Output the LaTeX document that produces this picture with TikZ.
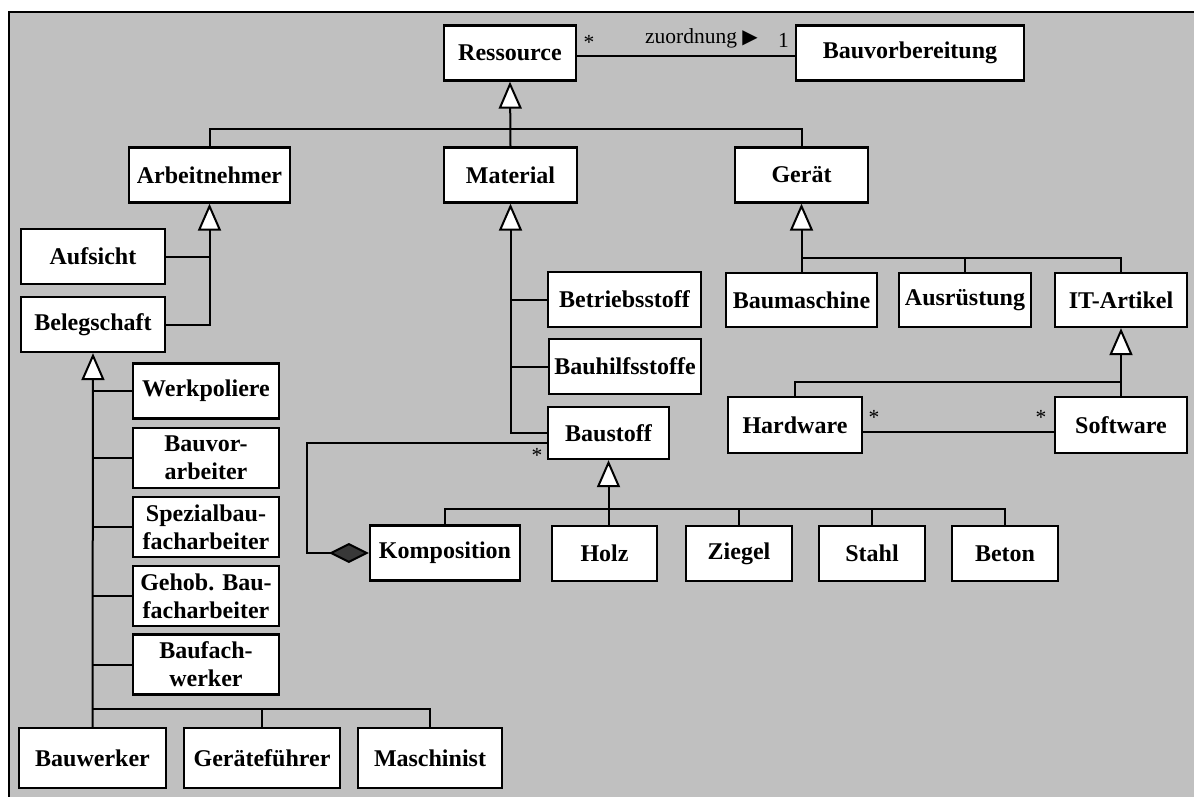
\documentclass[tikz,border=0pt]{standalone}
\usepackage{fontspec}
\setmainfont{Liberation Serif}
\newfontfamily\symfont{DejaVu Sans}
\usetikzlibrary{arrows.meta,calc}
\definecolor{panel}{HTML}{C0C0C0}
\definecolor{aggfill}{HTML}{383838}

\begin{document}
\begin{tikzpicture}[x=1pt,y=-1pt,
  cls/.style={draw, line width=2.3pt, fill=white, inner sep=0pt, align=center,
    font=\bfseries\fontsize{24}{28}\selectfont, minimum height=55pt},
  twoline/.style={minimum height=60pt},
  link/.style={line width=2pt},
  gen/.style={link, -{Triangle[fill=white, width=23pt, length=27pt]}},
  comp/.style={link, {Diamond[fill=aggfill, width=20pt, length=40pt]}-},
  mult/.style={inner sep=0pt, font=\fontsize{21.5}{24}\selectfont}]

\clip (0,0) rectangle (1194,796);
% grey panel
\draw[line width=2pt, fill=panel] (9,12) rectangle (1220,820);

% ---- classes ----
\node[cls, minimum width=132pt] (res)   at (510,53)    {Ressource};
\node[cls, minimum width=228pt] (vorb)  at (910,53)    {Bauvorbereitung};

\node[cls, minimum width=161pt] (arbn)  at (209.5,175) {Arbeitnehmer};
\node[cls, minimum width=133pt] (mat)   at (510.5,175) {Material};
\node[cls, minimum width=133pt] (ger)   at (801.5,175) {Gerät};

\node[cls, minimum width=144pt] (aufs)  at (93,256.5)  {Aufsicht};
\node[cls, minimum width=144pt] (beleg) at (93,324.5)  {Belegschaft};

\node[cls, minimum width=146pt] (werkp) at (206,391)   {Werkpoliere};
\node[cls, twoline, minimum width=146pt] (bvarb) at (206,458)   {Bauvor-\\arbeiter};
\node[cls, twoline, minimum width=146pt] (spez)  at (206,527)   {Spezialbau-\\facharbeiter};
\node[cls, twoline, minimum width=146pt] (gehob) at (206,596)   {Gehob. Bau-\\facharbeiter};
\node[cls, twoline, minimum width=146pt] (bfw)   at (206,664.5) {Baufach-\\werker};

\node[cls, twoline, minimum width=147pt] (bauw)  at (92.5,758) {Bauwerker};
\node[cls, twoline, minimum width=156pt] (gfuehr) at (262,758) {Geräteführer};
\node[cls, twoline, minimum width=144pt] (masch) at (430,758)  {Maschinist};

\node[cls, minimum width=153pt] (betr)  at (624.5,299.5) {Betriebsstoff};
\node[cls, minimum width=152pt] (bhilf) at (625,366.5)   {Bauhilfsstoffe};
\node[cls, minimum width=121pt, minimum height=52pt] (bstoff) at (608.5,433) {Baustoff};

\node[cls, minimum width=150pt] (kompo) at (445,553)    {Komposition};
\node[cls, minimum width=105pt] (holz)  at (604.5,553.5) {Holz};
\node[cls, minimum width=106pt] (ziegel) at (739,553.5) {Ziegel};
\node[cls, minimum width=106pt] (stahl) at (872,553.5)  {Stahl};
\node[cls, minimum width=106pt] (beton) at (1005,553.5) {Beton};

\node[cls, minimum width=151pt, minimum height=54pt] (bmasch) at (801.5,300) {Baumaschine};
\node[cls, minimum width=132pt, minimum height=54pt] (ausr)   at (965,300)   {Ausrüstung};
\node[cls, minimum width=132pt, minimum height=54pt] (itart)  at (1121,300)  {IT-Artikel};

\node[cls, minimum width=134pt, minimum height=56pt] (hw) at (795,425)  {Hardware};
\node[cls, minimum width=132pt, minimum height=56pt] (sw) at (1121,425) {Software};

% ---- association Ressource -- Bauvorbereitung ----
\draw[link] ($(res.east)+(0,3)$) -- ($(vorb.west)+(0,3)$);
\node[mult] (m-res) at (589,42) {*};
\node[mult] (m-zuo) at (701.5,38) {zuordnung {\symfont\fontsize{20}{22}\selectfont ▶}};
\node[mult] (m-vorb) at (783.5,40) {1};

% ---- generalisation of Ressource ----
\coordinate (rbar) at (510,129);
\draw[link] (arbn.north) |- (rbar) -| (ger.north);
\draw[gen] (mat.north) -- (res.south);

% ---- Arbeitnehmer ----
\draw[gen] (beleg.east) -| (arbn.south);
\draw[link] (aufs.east) -- (aufs.east -| arbn.south);

% ---- Belegschaft ----
\draw[gen] (bauw.north) -- (beleg.south);
\coordinate (bbar) at (92.5,709);
\draw[link] (bbar) -| (gfuehr.north);
\draw[link] (bbar) -| (masch.north);
\foreach \n in {werkp,bvarb,spez,gehob,bfw}
  \draw[link] (\n.west) -- (\n.west -| bauw.north);

% ---- Material ----
\draw[gen] (bstoff.west) -| (mat.south);
\draw[link] (betr.west) -- (betr.west -| mat.south);
\draw[link] (bhilf.west) -- (bhilf.west -| mat.south);

% ---- composition of Baustoff ----
\draw[comp] (kompo.west) -- ++(-62,0) |- ($(bstoff.west)+(0,10)$);
\node[mult] (m-bst) at (537,455) {*};

% ---- Baustoff ----
\coordinate (sbar) at (608.5,509);
\draw[gen] (sbar) -- (bstoff.south);
\draw[link] (kompo.north) |- (sbar) -| (beton.north);
\draw[link] (sbar) -- (holz.north -| sbar);
\draw[link] (ziegel.north) -- (ziegel.north |- sbar);
\draw[link] (stahl.north) -- (stahl.north |- sbar);

% ---- Gerät ----
\draw[gen] (bmasch.north) -- (ger.south);
\coordinate (gbar) at (801.5,258);
\draw[link] (gbar) -| (itart.north);
\draw[link] (ausr.north) -- (ausr.north |- gbar);

% ---- IT-Artikel ----
\draw[gen] (sw.north) -- (itart.south);
\coordinate (ibar) at (1121,382);
\draw[link] (hw.north) |- (ibar);

% ---- association Hardware -- Software ----
\draw[link] ($(hw.east)+(0,7)$) -- ($(sw.west)+(0,7)$);
\node[mult] (m-hw) at (874,417) {*};
\node[mult] (m-sw) at (1041,417) {*};
\end{tikzpicture}
\end{document}
